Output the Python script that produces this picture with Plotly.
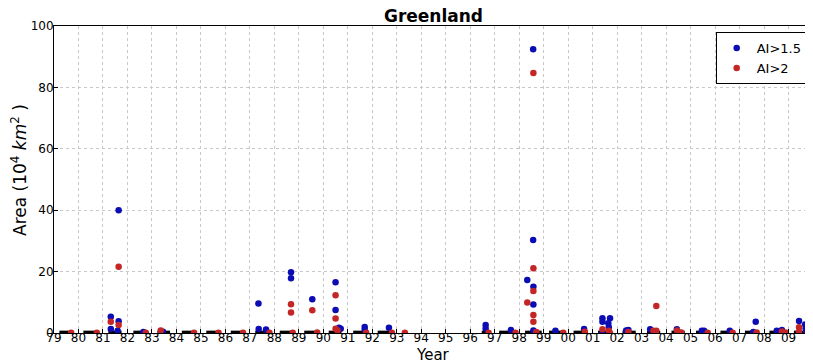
import plotly.graph_objects as go

# Observation seasons (black baseline at zero), fractional year since 1900
season_start = [79.22, 80.20, 81.22, 82.24, 83.22, 84.22, 85.22, 86.22, 87.22, 88.22,
                89.22, 90.22, 91.22, 92.22, 96.47, 97.18, 98.24, 99.22, 100.22, 101.22,
                102.22, 103.22, 104.22, 105.22, 106.22, 107.22, 108.22, 109.22]
season_end = [79.70, 80.74, 81.76, 82.72, 83.74, 84.74, 85.74, 86.74, 87.74, 88.74,
              89.74, 90.74, 91.74, 92.72, 96.81, 97.90, 98.92, 99.76, 100.76, 101.76,
              102.76, 103.76, 104.76, 105.76, 106.76, 107.76, 108.76, 109.76]
season_level = 0.2

# AI > 1.5 events
ai15_x = [81.32, 81.32, 81.64, 81.64, 81.60, 82.65, 83.45, 87.35, 87.36, 87.66,
          88.68, 88.68, 89.55, 90.50, 90.50, 90.64, 90.71, 91.69, 91.69, 92.68,
          96.63, 96.63, 97.66, 98.57, 98.57, 98.33, 98.58, 98.58, 98.58, 99.48,
          100.65, 101.40, 101.40, 101.40, 101.71, 101.64, 101.66, 102.37, 102.46, 103.35,
          104.44, 105.46, 105.55, 106.60, 107.66, 107.56, 108.52, 108.73, 109.43, 109.68,
          109.70, 109.72]
ai15_y = [5.3, 1.3, 40.0, 3.8, 0.75, 0.3, 0.4, 9.6, 1.3, 1.1,
          19.8, 17.8, 11.0, 16.5, 7.5, 1.7, 1.4, 1.95, 1.0, 1.7,
          2.6, 1.5, 1.0, 92.4, 30.3, 17.3, 15.1, 9.3, 0.8, 0.7,
          1.3, 4.8, 3.7, 0.2, 4.8, 3.2, 1.9, 0.8, 1.0, 1.2,
          1.2, 0.75, 0.75, 0.75, 3.7, 0.3, 0.75, 1.0, 3.9, 2.8,
          1.5, 0.75]

# AI > 2 events
ai2_x = [79.70, 80.75, 81.32, 81.64, 81.64, 82.75, 83.36, 84.72, 85.72, 86.72,
         87.80, 88.68, 88.68, 88.75, 89.55, 89.75, 90.50, 90.50, 90.50, 90.58,
         91.75, 92.80, 93.33, 96.75, 97.85, 98.58, 98.58, 98.58, 98.33, 98.58,
         98.58, 98.70, 99.80, 100.68, 101.40, 101.66, 101.71, 102.46, 103.48, 103.60,
         103.60, 104.45, 104.62, 105.70, 106.72, 107.70, 108.73, 108.88, 109.43, 109.43]
ai2_y = [0.1, 0.1, 3.7, 21.6, 2.6, 0.1, 0.8, 0.1, 0.1, 0.1,
         0.1, 9.4, 6.7, 0.1, 7.4, 0.2, 12.3, 4.7, 1.4, 0.8,
         0.1, 0.1, 0.1, 0.1, 0.1, 84.7, 21.1, 13.7, 9.9, 5.9,
         3.7, 0.3, 0.1, 0.4, 1.2, 0.75, 0.0, 0.3, 0.75, 0.75,
         8.8, 0.8, 0.2, 0.1, 0.1, 0.2, 0.5, 0.2, 1.9, 0.4]

tick_vals = list(range(79, 111))
tick_text = ["79", "80", "81", "82", "83", "84", "85", "86", "87", "88", "89",
             "90", "91", "92", "93", "94", "95", "96", "97", "98", "99",
             "00", "01", "02", "03", "04", "05", "06", "07", "08", "09", "10"]
y_ticks = [0, 20, 40, 60, 80, 100]

BLUE = "#0c0cb4"
RED = "#c42626"
FONT = "DejaVu Sans"

# page body has an 8px margin: size the figure so it ends at the window edge
W, H = 805, 352
L, T, B = 46, 18, 27
PW, PH = W - L, H - T - B

base_x, base_y = [], []
for s, e in zip(season_start, season_end):
    base_x += [s, e, None]
    base_y += [season_level, season_level, None]

fig = go.Figure()
fig.add_trace(go.Scatter(x=base_x, y=base_y, mode="lines",
                         line=dict(color="black", width=3.5),
                         showlegend=False, hoverinfo="skip"))
fig.add_trace(go.Scatter(x=ai15_x, y=ai15_y, mode="markers", name="AI>1.5",
                         marker=dict(color=BLUE, size=6.5)))
fig.add_trace(go.Scatter(x=ai2_x, y=ai2_y, mode="markers", name="AI>2",
                         marker=dict(color=RED, size=6.5)))

fig.update_layout(
    width=W, height=H,
    margin=dict(l=L, r=0, t=T, b=B, autoexpand=False),
    paper_bgcolor="white", plot_bgcolor="white",
    font=dict(family=FONT, color="black", size=12),
    title=dict(text="<b>Greenland</b>", x=(L + PW / 2) / W, xanchor="center",
               y=1 - 8 / H, yanchor="middle", font=dict(size=17, family=FONT)),
    showlegend=True,
    legend=dict(x=0.993, y=0.98, xanchor="right", yanchor="top",
                bgcolor="white", bordercolor="black", borderwidth=1,
                font=dict(size=13, family=FONT), itemwidth=30,
                tracegroupgap=0),
)

axis_common = dict(showgrid=True, gridcolor="#c8c8c8", griddash="dot", gridwidth=1,
                   showline=True, linecolor="black", linewidth=1, mirror=True,
                   ticks="inside", ticklen=4, tickcolor="black",
                   tickfont=dict(size=12, family=FONT), zeroline=False)
fig.update_xaxes(range=[79, 110], tickmode="array", tickvals=tick_vals, ticktext=tick_text,
                 ticklabeloverflow="allow", ticklabelstandoff=-6, **axis_common)
fig.update_yaxes(range=[0, 100], tickmode="array", tickvals=y_ticks,
                 ticklabelstandoff=-3, **axis_common)

fig.add_annotation(text="Year", xref="paper", yref="paper",
                   x=(425 - L) / PW, y=-(347 - (T + PH)) / PH, xanchor="center", yanchor="middle",
                   showarrow=False, font=dict(size=15, family=FONT))
fig.add_annotation(text="Area (10<sup>4</sup>\u00a0<i>km</i><sup>2</sup>\u00a0)", xref="paper", yref="paper",
                   x=-(L - 11) / PW, y=(T + PH - 162) / PH, xanchor="center", yanchor="middle",
                   textangle=-90, showarrow=False, font=dict(size=17, family=FONT))

fig.write_html("out.html")
